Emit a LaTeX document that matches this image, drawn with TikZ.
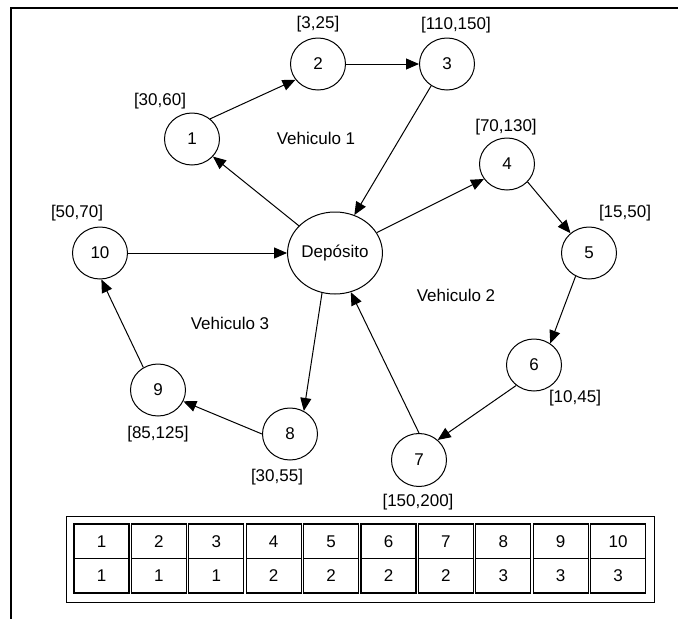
\documentclass[tikz,border=0pt]{standalone}
\usepackage{fontspec}
\setmainfont{Liberation Sans}
\usetikzlibrary{shapes.geometric,arrows.meta}
\begin{document}
\begin{tikzpicture}[x=1pt,y=-1pt,
  font=\fontsize{17}{20}\selectfont,
  stop/.style={draw,ellipse,line width=1pt,minimum width=55pt,minimum height=52pt,inner sep=0pt},
  depot/.style={stop,minimum width=89pt,minimum height=82pt},
  tag/.style={inner sep=0pt},
  route/.style={line width=1pt,-{Triangle[length=13pt,width=11pt]}},
  cell/.style={draw,line width=1.2pt,minimum width=55pt,minimum height=34.5pt,inner sep=0pt},
  ]
\useasboundingbox (0,0) rectangle (678,619);

% outer frame (left and top sides only)
\draw[line width=2pt] (11,619) -- (11,8) -- (678,8);

% customers and depot
\node[depot] (dep) at (335,253) {Depósito};
\node[stop] (n1)  at (192,139) {1};
\node[stop] (n2)  at (318,64)  {2};
\node[stop] (n3)  at (447,64)  {3};
\node[stop] (n4)  at (507,164) {4};
\node[stop] (n5)  at (589,253) {5};
\node[stop] (n6)  at (534,365) {6};
\node[stop,minimum height=53pt] (n7) at (419,460) {7};
\node[stop] (n8)  at (290,434) {8};
\node[stop] (n9)  at (158,390) {9};
\node[stop] (n10) at (100,253) {10};

% time windows
\node[tag] (w1)  at (160,101) {[30,60]};
\node[tag] (w2)  at (318,24)  {[3,25]};
\node[tag] (w3)  at (456,25)  {[110,150]};
\node[tag] (w4)  at (506,127) {[70,130]};
\node[tag] (w5)  at (625,213) {[15,50]};
\node[tag] (w6)  at (575,398) {[10,45]};
\node[tag] (w7)  at (418,502) {[150,200]};
\node[tag] (w8)  at (277,477) {[30,55]};
\node[tag] (w9)  at (158,434) {[85,125]};
\node[tag] (w10) at (77,213)  {[50,70]};

% route names
\node[tag] (v1) at (316,138) {Vehiculo 1};
\node[tag] (v2) at (456,295) {Vehiculo 2};
\node[tag] (v3) at (230,323) {Vehiculo 3};

% routes
\draw[route] (n1.48) -- (n2.215);
\draw[route] (n2.east) -- (n3.west);
\draw[route] (n3.234) -- (dep.63);
\draw[route] (dep.143) -- (n1.-40);
\draw[route] (dep.26) -- (n4.213);
\draw[route] (n4.-41) -- (n5.133);
\draw[route] (n5.240) -- (n6.53);
\draw[route] (n6.229) -- (n7.47);
\draw[route] (n7.90) -- (dep.-68);
\draw[route] (dep.252) -- (n8.59);
\draw[route] (n8.180) -- (n9.-24);
\draw[route] (n9.123) -- (n10.-87);
\draw[route] (n10.east) -- (dep.west);

% assignment table
\draw[line width=1pt] (66,516) rectangle (654,602);
\foreach \c/\v [count=\i from 0] in {1/1,2/1,3/1,4/2,5/2,6/2,7/2,8/3,9/3,10/3} {
  \node[cell] (c\c) at ({101.5+57.4*\i},541.25) {\c};
  \node[cell] (r\c) at ({101.5+57.4*\i},575.75) {\v};
}
\end{tikzpicture}
\end{document}
